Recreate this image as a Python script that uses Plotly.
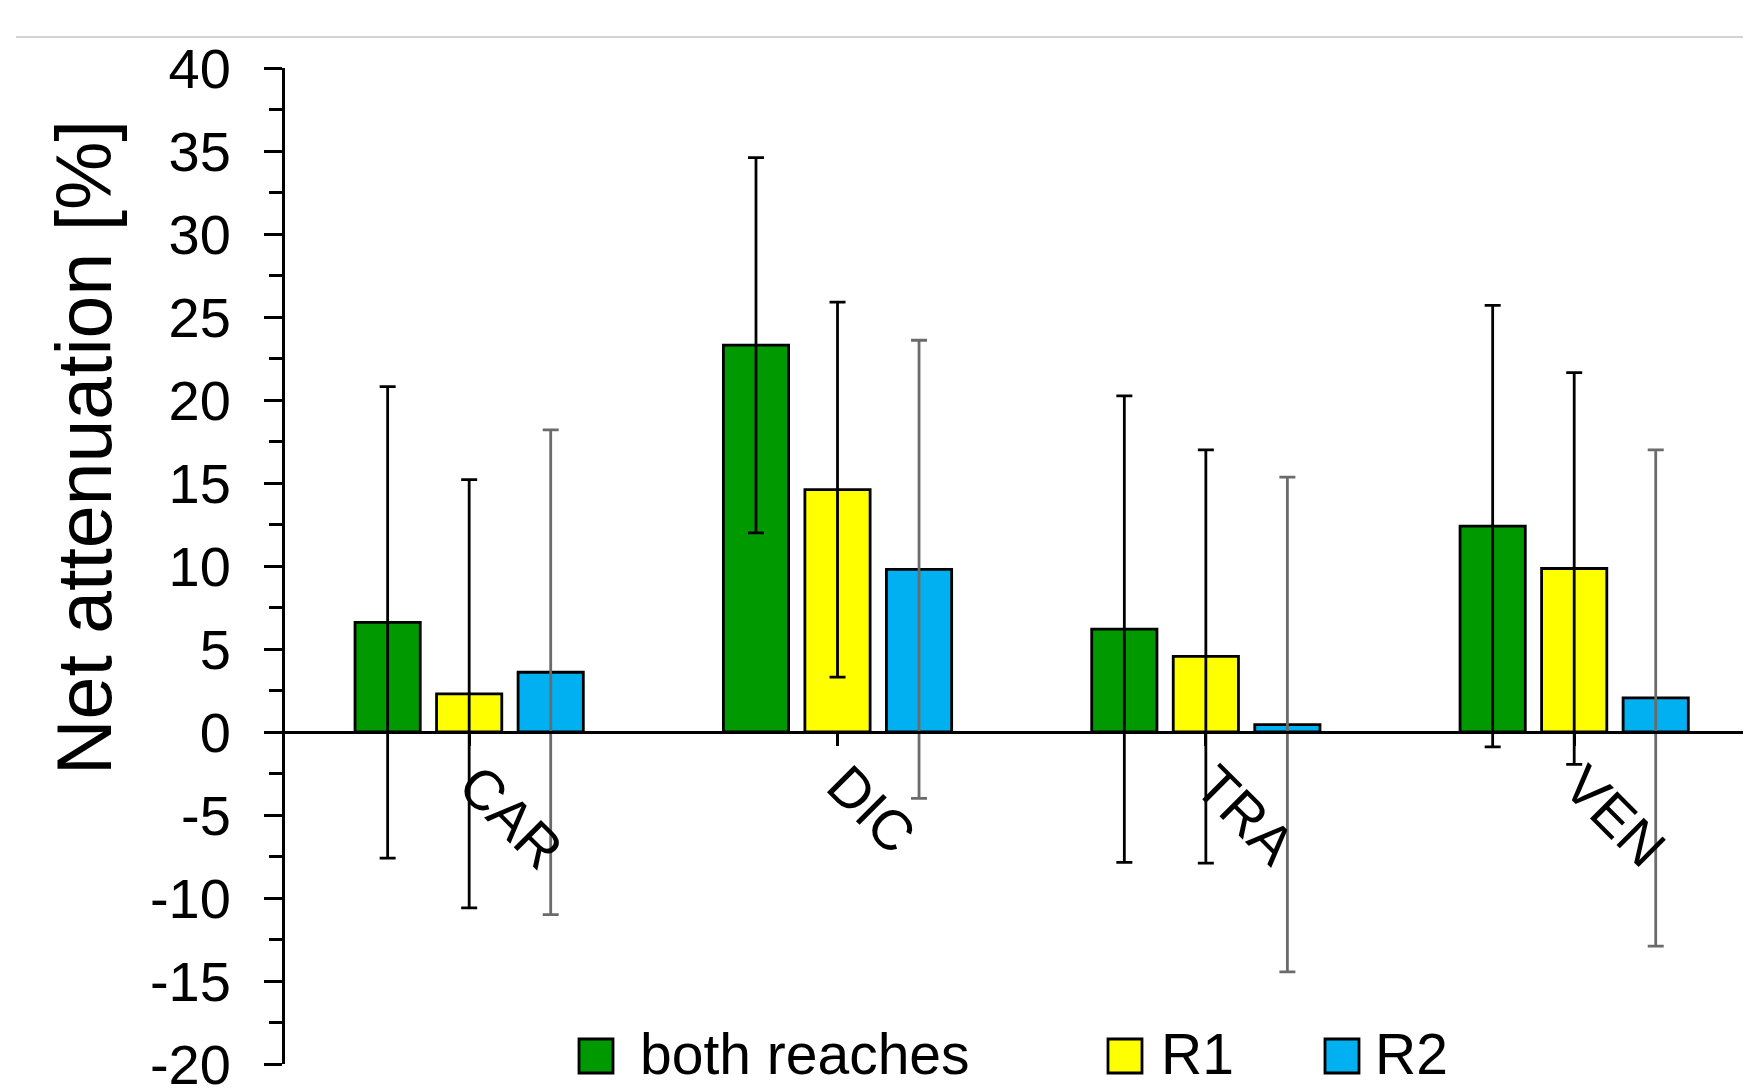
import plotly.graph_objects as go

categories = ["CAR", "DIC", "TRA", "VEN"]
series_names = ["both reaches", "R1", "R2"]
both_vals = [6.6, 23.3, 6.2, 12.4]
both_err = [14.2, 11.3, 14.05, 13.3]
r1_vals = [2.3, 14.6, 4.55, 9.85]
r1_err = [12.9, 11.3, 12.45, 11.8]
r2_vals = [3.6, 9.8, 0.45, 2.05]
r2_err = [14.6, 13.8, 14.9, 14.95]
bar_colors = ["#009900", "#FFFF00", "#00B0F0"]
err_colors = ["#000000", "#000000", "#6b6b6b"]
y_ticks = list(range(-20, 45, 5))

FONT = "Liberation Sans, Arial, sans-serif"
OFF = 8  # page body margin
W, H = 1751 - OFF, 1088 - OFF
ML, MR, MT, MB = 285 - OFF, 0, 68 - OFF, 24
PW, PH = W - ML - MR, H - MT - MB

def px_x(p):  # page pixel -> paper
    return (p - OFF - ML) / PW

def px_y(p):
    return (H - MB - (p - OFF)) / PH

fig = go.Figure()
for name, vals, errs, col, ecol in zip(series_names, [both_vals, r1_vals, r2_vals],
                                        [both_err, r1_err, r2_err], bar_colors, err_colors):
    fig.add_trace(go.Bar(
        x=categories, y=vals, name=name,
        marker=dict(color=col, line=dict(color="black", width=2.8)),
        error_y=dict(type="data", array=errs, symmetric=True, color=ecol,
                     thickness=2.8, width=8),
        showlegend=False,
    ))

fig.update_layout(
    width=W, height=H,
    margin=dict(l=ML, r=MR, t=MT, b=MB, autoexpand=False),
    paper_bgcolor="white", plot_bgcolor="white",
    barmode="group", bargap=0.336, bargroupgap=0.2,
    font=dict(family=FONT, size=56, color="black"),
)
fig.update_xaxes(
    range=[-0.5, 3.48], anchor="free", position=1/3, automargin=False,
    showline=True, linecolor="black", linewidth=2.8,
    ticks="outside", ticklen=12, tickwidth=2.8, tickcolor="black",
    tickangle=45, tickfont=dict(size=56), showgrid=False, zeroline=False,
    ticklabelstandoff=-16, ticklabelshift=6,
)
fig.update_yaxes(
    range=[-20, 40], tickvals=y_ticks, ticktext=[str(v) for v in y_ticks],
    automargin=False,
    showline=True, linecolor="black", linewidth=2.8,
    ticks="outside", ticklen=18, tickwidth=2.8, tickcolor="black",
    ticklabelstandoff=22, ticklabeloverflow="allow",
    minor=dict(ticks="outside", ticklen=13, tickwidth=2.8, tickcolor="black",
               dtick=2.5, showgrid=False),
    showgrid=False, zeroline=False, tickfont=dict(size=56),
)

# y-axis title
fig.add_annotation(text="Net attenuation [%]", textangle=-90, showarrow=False,
                   xref="paper", yref="paper", x=px_x(84), y=px_y(448),
                   xanchor="center", yanchor="middle", font=dict(size=77))

# top separator line
fig.add_shape(type="line", xref="paper", yref="paper", x0=px_x(16), x1=1.0,
              y0=px_y(37), y1=px_y(37), line=dict(color="#c4c4c4", width=1.5))

# manual legend
box_left = [579, 1108, 1325]
text_left = [640, 1161, 1375]
for name, col, bx, tx in zip(series_names, bar_colors, box_left, text_left):
    fig.add_shape(type="rect", xref="paper", yref="paper",
                  x0=px_x(bx), x1=px_x(bx + 34), y0=px_y(1073), y1=px_y(1039),
                  fillcolor=col, line=dict(color="black", width=2.8))
    fig.add_annotation(text=name, showarrow=False, xref="paper", yref="paper",
                       x=px_x(tx - 2), y=px_y(1054), xanchor="left", yanchor="middle",
                       font=dict(size=57))

fig.write_html("out.html")
